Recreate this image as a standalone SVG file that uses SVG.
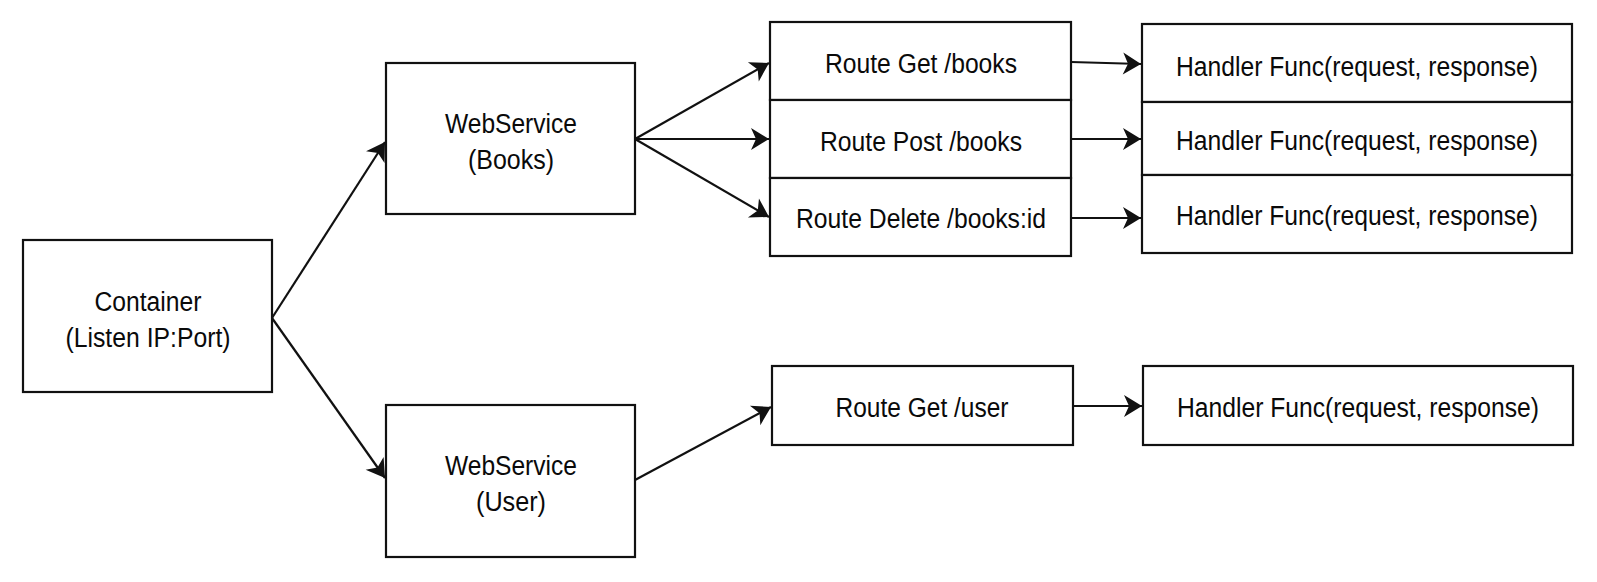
<svg xmlns="http://www.w3.org/2000/svg" width="1597" height="582" viewBox="0 0 1597 582">
  <style>
    .box { fill: #ffffff; stroke: #111111; stroke-width: 2.2; }
    .lbl { font-family: "Liberation Sans", Arial, sans-serif; font-size: 27px; fill: #0a0a0a; text-anchor: middle; }
    .edge { stroke: #111111; stroke-width: 2.2; fill: none; marker-end: url(#arrow); }
  </style>
  <defs>
    <marker id="arrow" markerUnits="userSpaceOnUse" viewBox="-19 -12 21 24" refX="0" refY="0" markerWidth="21" markerHeight="24" orient="auto">
      <path d="M0,0 L-18,-11 L-13,0 L-18,11 Z" fill="#111111"/>
    </marker>
  </defs>
  <rect width="1597" height="582" fill="#ffffff"/>

  <g id="container">
    <rect class="box" x="23" y="240" width="249" height="152"/>
    <text class="lbl" x="148" y="311" textLength="107" lengthAdjust="spacingAndGlyphs">Container</text>
    <text class="lbl" x="148" y="347" textLength="165" lengthAdjust="spacingAndGlyphs">(Listen IP:Port)</text>
  </g>

  <g id="ws-books">
    <rect class="box" x="386" y="63" width="249" height="151"/>
    <text class="lbl" x="511" y="133" textLength="132" lengthAdjust="spacingAndGlyphs">WebService</text>
    <text class="lbl" x="511" y="169" textLength="86" lengthAdjust="spacingAndGlyphs">(Books)</text>
  </g>

  <g id="ws-user">
    <rect class="box" x="386" y="405" width="249" height="152"/>
    <text class="lbl" x="511" y="475" textLength="132" lengthAdjust="spacingAndGlyphs">WebService</text>
    <text class="lbl" x="511" y="511" textLength="70" lengthAdjust="spacingAndGlyphs">(User)</text>
  </g>

  <g id="route-get-books">
    <rect class="box" x="770" y="22" width="301" height="78"/>
    <text class="lbl" x="921" y="73" textLength="192" lengthAdjust="spacingAndGlyphs">Route Get /books</text>
  </g>
  <g id="route-post-books">
    <rect class="box" x="770" y="100" width="301" height="78"/>
    <text class="lbl" x="921" y="151" textLength="202" lengthAdjust="spacingAndGlyphs">Route Post /books</text>
  </g>
  <g id="route-delete-books">
    <rect class="box" x="770" y="178" width="301" height="78"/>
    <text class="lbl" x="921" y="228" textLength="250" lengthAdjust="spacingAndGlyphs">Route Delete /books:id</text>
  </g>

  <g id="handler-1">
    <rect class="box" x="1142" y="24" width="430" height="78"/>
    <text class="lbl" x="1357" y="76" textLength="362" lengthAdjust="spacingAndGlyphs">Handler Func(request, response)</text>
  </g>
  <g id="handler-2">
    <rect class="box" x="1142" y="102" width="430" height="73"/>
    <text class="lbl" x="1357" y="150" textLength="362" lengthAdjust="spacingAndGlyphs">Handler Func(request, response)</text>
  </g>
  <g id="handler-3">
    <rect class="box" x="1142" y="175" width="430" height="78"/>
    <text class="lbl" x="1357" y="225" textLength="362" lengthAdjust="spacingAndGlyphs">Handler Func(request, response)</text>
  </g>

  <g id="route-get-user">
    <rect class="box" x="772" y="366" width="301" height="79"/>
    <text class="lbl" x="922" y="417" textLength="173" lengthAdjust="spacingAndGlyphs">Route Get /user</text>
  </g>
  <g id="handler-4">
    <rect class="box" x="1143" y="366" width="430" height="79"/>
    <text class="lbl" x="1358" y="417" textLength="362" lengthAdjust="spacingAndGlyphs">Handler Func(request, response)</text>
  </g>

  <g id="connectors">
    <path class="edge" d="M272,318 L385,142"/>
    <path class="edge" d="M272,318 L385,478"/>
    <path class="edge" d="M635,139 L769,63"/>
    <path class="edge" d="M635,139 L769,139"/>
    <path class="edge" d="M635,139 L769,217"/>
    <path class="edge" d="M1071,62 L1141,64"/>
    <path class="edge" d="M1071,139 L1141,139"/>
    <path class="edge" d="M1071,218 L1141,218"/>
    <path class="edge" d="M635,480 L771,407"/>
    <path class="edge" d="M1073,406 L1142,406"/>
  </g>
</svg>
